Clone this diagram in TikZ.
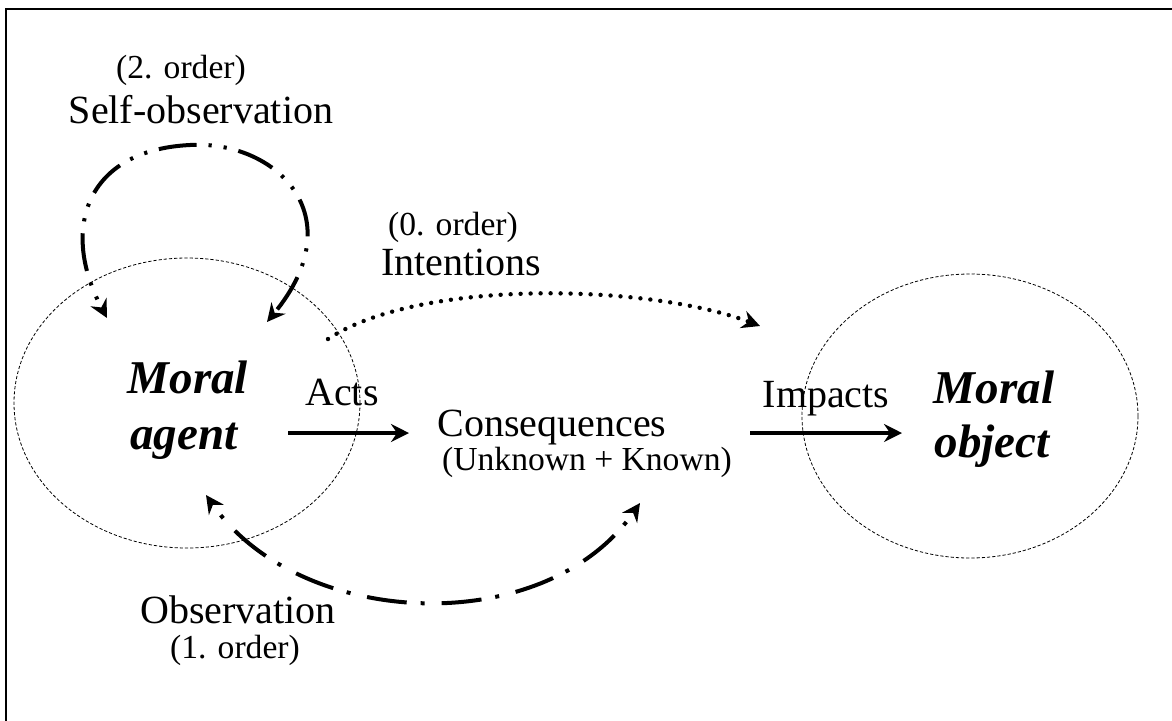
\documentclass[tikz,border=0pt]{standalone}
\usepackage{fontspec}
\setmainfont{Liberation Serif}
\usetikzlibrary{arrows.meta,shapes.geometric}
\begin{document}
\begin{tikzpicture}[x=0.5pt,y=-0.5pt,
  big/.style={font=\fontsize{20}{24}\selectfont, inner sep=0pt, anchor=base},
  small/.style={font=\fontsize{16.8}{20}\selectfont, inner sep=0pt, anchor=base},
  bi/.style={font=\fontsize{23.5}{28}\selectfont\bfseries\itshape, inner sep=0pt, anchor=base},
  zone/.style={ellipse, draw, line width=0.4pt, dash pattern=on 1.6pt off 1pt, inner sep=0pt},
  flow/.style={line width=2pt, -{Stealth[length=9pt,width=9pt,inset=3pt]}},
  selfobs/.style={line width=2pt, dash pattern=on 19pt off 6pt on 1.6pt off 6pt on 1.6pt off 6pt, dash phase=20pt,
     {Stealth[length=9pt,width=9pt,inset=3pt]}-{Stealth[length=9pt,width=9pt,inset=3pt]}},
  obs/.style={line width=2pt, dash pattern=on 20pt off 7pt on 2pt off 8.5pt, dash phase=20pt,
     {Stealth[length=9pt,width=9pt,inset=3pt]}-{Stealth[length=9pt,width=9pt,inset=3pt]}},
  intent/.style={line width=2.2pt, line cap=round, dash pattern=on 0pt off 5pt,
     -{Stealth[length=9pt,width=9pt,inset=3pt]}}
]
\clip (0,0) rectangle (1172,720);
\useasboundingbox (0,0) rectangle (1172,720);
\draw[line width=0.6pt] (6,9) rectangle (1200,740);

% zones
\node[zone, minimum width=173pt, minimum height=145pt] (agentzone) at (187,403) {};
\node[zone, minimum width=168pt, minimum height=142pt] (objectzone) at (970,416) {};

% texts
\node[small] (so2) at (181,78) {(2. order)};
\node[big] (so) at (201,123) {Self-observation};
\node[small] (in0) at (453,235) {(0. order)};
\node[big] (in) at (461,275) {Intentions};
\node[bi] (moral1) at (188,393) {Moral};
\node[bi] (agent) at (184,449) {agent};
\node[big] (acts) at (342,405) {Acts};
\node[big] (cons) at (552,436) {Consequences};
\node[small] (consk) at (587,470) {(Unknown + Known)};
\node[big] (imp) at (826,407) {Impacts};
\node[bi] (moral2) at (994,403) {Moral};
\node[bi] (object) at (992,457) {object};
\node[big] (obs) at (238,623) {Observation};
\node[small] (obs1) at (235,658) {(1. order)};

% connector ends
\coordinate (actsA) at (288,433);
\coordinate (actsB) at (409,433);
\coordinate (impA) at (750,433);
\coordinate (impB) at (902,433);
\coordinate (soL) at (107,318);
\coordinate (soT) at (190,145);
\coordinate (soR) at (267,322);
\coordinate (inA) at (328,339);
\coordinate (inB) at (760,326);
\coordinate (obA) at (206,495);
\coordinate (obB) at (640,503);

\draw[flow] (actsA) -- (actsB);
\draw[flow] (impA) -- (impB);
\draw[selfobs] (soL) .. controls (60,230) and (85,150) .. (soT) .. controls (275,140) and (355,215) .. (soR);
\draw[intent] (inA) .. controls (420,278) and (650,284) .. (inB);
\draw[obs] (obA) .. controls (300,630) and (545,640) .. (obB);
\end{tikzpicture}
\end{document}
